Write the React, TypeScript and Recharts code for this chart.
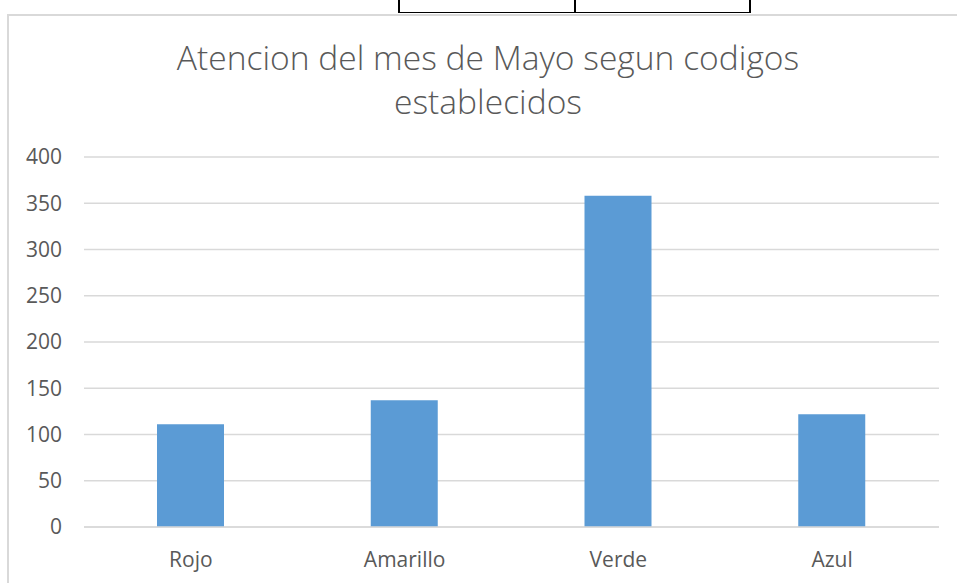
import React from 'react';
import { BarChart, Bar, XAxis, YAxis, CartesianGrid } from 'recharts';

const categories = ['Rojo', 'Amarillo', 'Verde', 'Azul'];
const values = [111, 137, 358, 122];
const yTicks = [0, 50, 100, 150, 200, 250, 300, 350, 400];
const titleLines = ['Atencion del mes de Mayo segun codigos', 'establecidos'];

const data = categories.map((name, i) => ({ name, value: values[i] }));

const FONT = '"Open Sans", "DejaVu Sans", sans-serif';
const TEXT = '#595959';
const GRID = '#d9d9d9';
const BAR = '#5b9bd5';

export default function App() {
  return (
    <div style={{ position: 'absolute', left: 0, top: 0, width: 957, height: 583, overflow: 'hidden', background: '#fff' }}>
      {/* table fragment at top */}
      <div style={{ position: 'absolute', left: 398, top: 0, width: 2, height: 13, background: '#000' }} />
      <div style={{ position: 'absolute', left: 574, top: 0, width: 2, height: 13, background: '#000' }} />
      <div style={{ position: 'absolute', left: 749, top: 0, width: 2, height: 13, background: '#000' }} />
      <div style={{ position: 'absolute', left: 398, top: 11.5, width: 353, height: 1.5, background: '#000' }} />
      {/* chart frame */}
      <div style={{ position: 'absolute', left: 7, top: 13.5, width: 1000, height: 700, border: `2px solid ${GRID}`, boxSizing: 'border-box' }} />
      {/* title */}
      <div
        style={{
          position: 'absolute',
          left: 88,
          top: 35,
          width: 800,
          textAlign: 'center',
          fontFamily: FONT,
          fontSize: 33.6,
          lineHeight: '44px',
          color: TEXT,
          fontWeight: 300,
        }}
      >
        {titleLines.map((t) => (
          <div key={t}>{t}</div>
        ))}
      </div>
      <div style={{ position: 'absolute', left: 0, top: 0 }}>
        <BarChart width={957} height={583} data={data} margin={{ top: 157, right: 18, bottom: 0, left: 0 }}>
          <CartesianGrid vertical={false} stroke={GRID} strokeWidth={1.5} />
          <XAxis
            dataKey="name"
            height={56}
            tickSize={0}
            tickMargin={25}
            axisLine={{ stroke: GRID, strokeWidth: 1.5 }}
            tickLine={false}
            tick={{ fill: TEXT, fontSize: 21, fontFamily: FONT }}
          />
          <YAxis
            width={84}
            domain={[0, 400]}
            ticks={yTicks}
            interval={0}
            tickSize={0}
            tickMargin={22}
            axisLine={false}
            tickLine={false}
            tick={{ fill: TEXT, fontSize: 21, fontFamily: FONT }}
          />
          <Bar dataKey="value" fill={BAR} barSize={67} isAnimationActive={false} />
        </BarChart>
      </div>
    </div>
  );
}
